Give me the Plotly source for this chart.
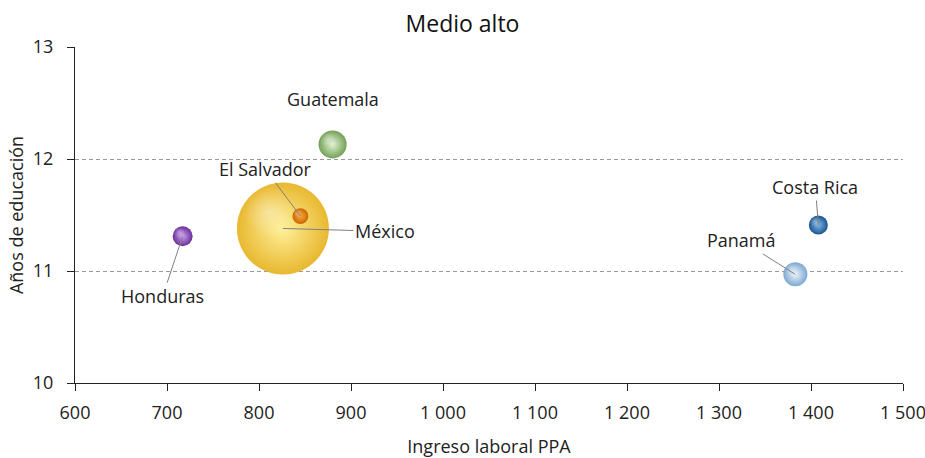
import math
import plotly.graph_objects as go

paises = ["Honduras", "México", "El Salvador", "Guatemala", "Costa Rica", "Panamá"]
ingreso = [717, 826, 845, 880, 1408, 1383]
educacion = [11.31, 11.38, 11.49, 12.13, 11.41, 10.97]
poblacion = [4.7, 100.0, 3.0, 9.3, 4.3, 6.8]

color_centro = ["#c9a0ec", "#fff099", "#f7a83a", "#e2f2d4", "#7fb4e4", "#eaf3fc"]
color_borde = ["#6a2c9a", "#e8b830", "#cc6600", "#72a055", "#1b5590", "#7ea8d0"]

# label offsets (pixels) relative to bubble centre
lab_ax = [-20, 102, -35, 0, -3, -54]
lab_ay = [60, 3, -47, -45, -38, -34]
lab_arrow = [True, True, True, False, True, True]

X_RANGE = [600, 1500]
Y_RANGE = [10, 13]
ML, MR, MT, MB = 75, 22, 47, 75
W, H = 925, 458
px_x = (W - ML - MR) / (X_RANGE[1] - X_RANGE[0])
px_y = (H - MT - MB) / (Y_RANGE[1] - Y_RANGE[0])

maxp = max(poblacion)
diam = [92 * math.sqrt(p / maxp) for p in poblacion]

fig = go.Figure()
fig.add_trace(go.Scatter(
    x=ingreso, y=educacion, mode="markers",
    marker=dict(size=diam, sizemode="diameter", color=color_borde,
                gradient=dict(type="radial", color=color_centro),
                line=dict(width=0), opacity=1),
    hoverinfo="text", text=paises, showlegend=False,
))
# specular highlight (offset up-left)
hx = [x - 0.16 * d / px_x for x, d in zip(ingreso, diam)]
hy = [y + 0.18 * d / px_y for y, d in zip(educacion, diam)]
fig.add_trace(go.Scatter(
    x=hx, y=hy, mode="markers",
    marker=dict(size=[0.55 * d for d in diam], sizemode="diameter",
                color="rgba(255,255,255,0)",
                gradient=dict(type="radial", color="rgba(255,255,255,0.5)"),
                line=dict(width=0)),
    hoverinfo="skip", showlegend=False,
))

for i, p in enumerate(paises):
    if lab_arrow[i]:
        fig.add_annotation(x=ingreso[i], y=educacion[i], text=p, showarrow=True,
                           arrowhead=0, arrowwidth=1, arrowcolor="#808080",
                           ax=lab_ax[i], ay=lab_ay[i], standoff=0,
                           font=dict(size=18, color="#222"))
    else:
        fig.add_annotation(x=ingreso[i], y=educacion[i], text=p, showarrow=False,
                           xshift=lab_ax[i], yshift=-lab_ay[i],
                           font=dict(size=18, color="#222"))

fig.update_layout(
    width=W, height=H,
    margin=dict(l=ML, r=MR, t=MT, b=MB),
    paper_bgcolor="white", plot_bgcolor="white",
    font=dict(family="Open Sans", size=18, color="#222"),
    separators=", ",
    title=dict(text="Medio alto", x=0.5, xanchor="center", y=1 - 24 / H, yanchor="middle",
               font=dict(size=23, color="#111")),
    xaxis=dict(range=X_RANGE, dtick=100, tick0=600, showgrid=False,
               showline=True, linecolor="#222", linewidth=1,
               ticks="outside", ticklen=7, tickcolor="#222",
               separatethousands=True, zeroline=False, automargin=False,
               ticklabelstandoff=6, ticklabeloverflow="allow",
               title=dict(text="Ingreso laboral PPA", standoff=22,
                          font=dict(size=18))),
    yaxis=dict(range=Y_RANGE, dtick=1, tick0=10, showgrid=True,
               gridcolor="#999999", griddash="4px,3px", gridwidth=1,
               showline=True, linecolor="#222", linewidth=1,
               ticks="outside", ticklen=7, tickcolor="#222", zeroline=False,
               automargin=False, ticklabelstandoff=10, ticklabeloverflow="allow",
               title=dict(text="Años de educación", standoff=4,
                          font=dict(size=18))),
)

fig.write_html("out.html")
